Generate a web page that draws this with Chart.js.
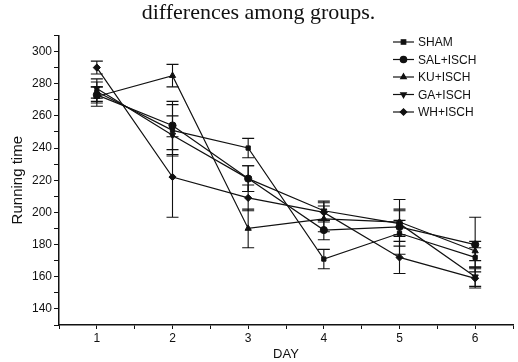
<!DOCTYPE html>
<html>
<head>
<meta charset="utf-8">
<script src="https://cdn.jsdelivr.net/npm/chart.js@4.4.1/dist/chart.umd.min.js"></script>
<style>
  html, body { margin: 0; padding: 0; background: #fff; }
  #chart-container { width: 518px; height: 362px; position: relative; }
</style>
</head>
<body>
<div id="chart-container"><canvas id="chart"></canvas></div>
<script>
// データ
var days = [1, 2, 3, 4, 5, 6];
var groupNames = ['SHAM', 'SAL+ISCH', 'KU+ISCH', 'GA+ISCH', 'WH+ISCH'];
var shamValues = [275, 251, 240, 171, 187, 172];
var salValues  = [273, 254, 221, 189, 191, 180];
var kuValues   = [272, 285, 190, 196, 194, 176];
var gaValues   = [277, 248, 221, 201, 193, 160];
var whValues   = [290, 222, 209, 200, 172, 159];
// 誤差 (±)
var shamErrors = [6, 16, 6, 6, 8, 6];
var salErrors  = [5, 15, 8, 6, 17, 17];
var kuErrors   = [6, 7, 12, 8, 8, 6];
var gaErrors   = [6, 12, 8, 6, 8, 6];
var whErrors   = [4, 25, 8, 6, 10, 6];
var yTickLabels = [140, 160, 180, 200, 220, 240, 260, 280, 300];

var allValues = [shamValues, salValues, kuValues, gaValues, whValues];
var allErrors = [shamErrors, salErrors, kuErrors, gaErrors, whErrors];
var pointStyles = ['rect', 'circle', 'triangle', 'triangle', 'rectRot'];
var rotations = [0, 0, 0, 180, 0];

var datasets = groupNames.map(function (name, i) {
    return {
        label: name,
        data: days.map(function (d, j) { return { x: d, y: allValues[i][j] }; }),
        errors: allErrors[i],
        borderColor: '#111',
        backgroundColor: '#111',
        borderWidth: 1.2,
        pointBorderWidth: 1,
        pointStyle: pointStyles[i],
        rotation: rotations[i],
        pointRadius: pointStyles[i] === 'rect' ? 3 : 3.6,
        tension: 0
    };
});

// 誤差棒
var errorBarPlugin = {
    id: 'errorBars',
    afterDatasetsDraw: function (chart) {
        var ctx = chart.ctx;
        var xs = chart.scales.x, ys = chart.scales.y;
        ctx.save();
        ctx.strokeStyle = '#111';
        ctx.lineWidth = 1.1;
        chart.data.datasets.forEach(function (ds) {
            ds.data.forEach(function (p, j) {
                var e = ds.errors[j];
                var x = xs.getPixelForValue(p.x);
                var y1 = ys.getPixelForValue(p.y - e);
                var y2 = ys.getPixelForValue(p.y + e);
                ctx.beginPath();
                ctx.moveTo(x, y1); ctx.lineTo(x, y2);
                ctx.moveTo(x - 6, y1); ctx.lineTo(x + 6, y1);
                ctx.moveTo(x - 6, y2); ctx.lineTo(x + 6, y2);
                ctx.stroke();
            });
        });
        ctx.restore();
    }
};

// 凡例 (—■— 形式)
var legendPlugin = {
    id: 'innerLegend',
    afterDraw: function (chart) {
        var ctx = chart.ctx;
        ctx.save();
        ctx.font = '12px "Liberation Sans", Arial, sans-serif';
        ctx.textBaseline = 'middle';
        ctx.fillStyle = '#111';
        chart.data.datasets.forEach(function (ds, i) {
            var y = 42 + i * 17.5;
            ctx.strokeStyle = '#111';
            ctx.lineWidth = 1.2;
            ctx.beginPath();
            ctx.moveTo(393, y); ctx.lineTo(414, y);
            ctx.stroke();
            Chart.helpers.drawPoint(ctx, {
                pointStyle: ds.pointStyle, rotation: ds.rotation, radius: 3.2, borderWidth: 1
            }, 403.5, y);
            ctx.fillText(ds.label, 418, y + 1);
        });
        ctx.restore();
    }
};

var ctx = document.getElementById('chart').getContext('2d');
var chart = new Chart(ctx, {
    type: 'line',
    data: { datasets: datasets },
    plugins: [errorBarPlugin, legendPlugin],
    options: {
        responsive: true,
        maintainAspectRatio: false,
        animation: false,
        devicePixelRatio: 1,
        layout: { padding: { left: 0, right: 1, top: 0, bottom: 0 } },
        plugins: {
            legend: { display: false },
            tooltip: { enabled: false },
            title: {
                display: true,
                text: 'differences among groups.',
                color: '#111',
                font: { family: '"Liberation Serif", "DejaVu Serif", serif', size: 22, weight: 'normal' },
                padding: { top: 0, bottom: 9 }
            }
        },
        scales: {
            x: {
                type: 'linear',
                min: 0.5,
                max: 6.5,
                afterBuildTicks: function (scale) {
                    var t = [];
                    for (var v = 0.5; v <= 6.5; v += 0.5) t.push({ value: v });
                    scale.ticks = t;
                },
                afterFit: function (scale) { scale.height = 37; },
                border: { color: '#111', width: 1.5 },
                grid: { drawOnChartArea: false, tickLength: 4, color: '#111' },
                ticks: {
                    color: '#111',
                    padding: 2,
                    autoSkip: false,
                    maxRotation: 0,
                    font: { family: '"Liberation Sans", Arial, sans-serif', size: 12 },
                    callback: function (v) { return Number.isInteger(v) ? v : ''; }
                },
                title: {
                    display: true,
                    text: 'DAY',
                    color: '#111',
                    padding: 0,
                    font: { family: '"Liberation Sans", Arial, sans-serif', size: 13 }
                }
            },
            y: {
                min: 130,
                max: 310,
                afterBuildTicks: function (scale) {
                    var t = [];
                    for (var v = 130; v <= 310; v += 10) t.push({ value: v });
                    scale.ticks = t;
                },
                afterFit: function (scale) { scale.width = 59; },
                border: { color: '#111', width: 1.5 },
                grid: { drawOnChartArea: false, tickLength: 5, color: '#111' },
                ticks: {
                    color: '#111',
                    padding: 2,
                    autoSkip: false,
                    font: { family: '"Liberation Sans", Arial, sans-serif', size: 12 },
                    callback: function (v) { return yTickLabels.indexOf(v) >= 0 ? v : ''; }
                },
                title: {
                    display: true,
                    text: 'Running time',
                    color: '#111',
                    padding: { top: 9, bottom: 0 },
                    font: { family: '"Liberation Sans", Arial, sans-serif', size: 15 }
                }
            }
        }
    }
});
</script>
</body>
</html>
